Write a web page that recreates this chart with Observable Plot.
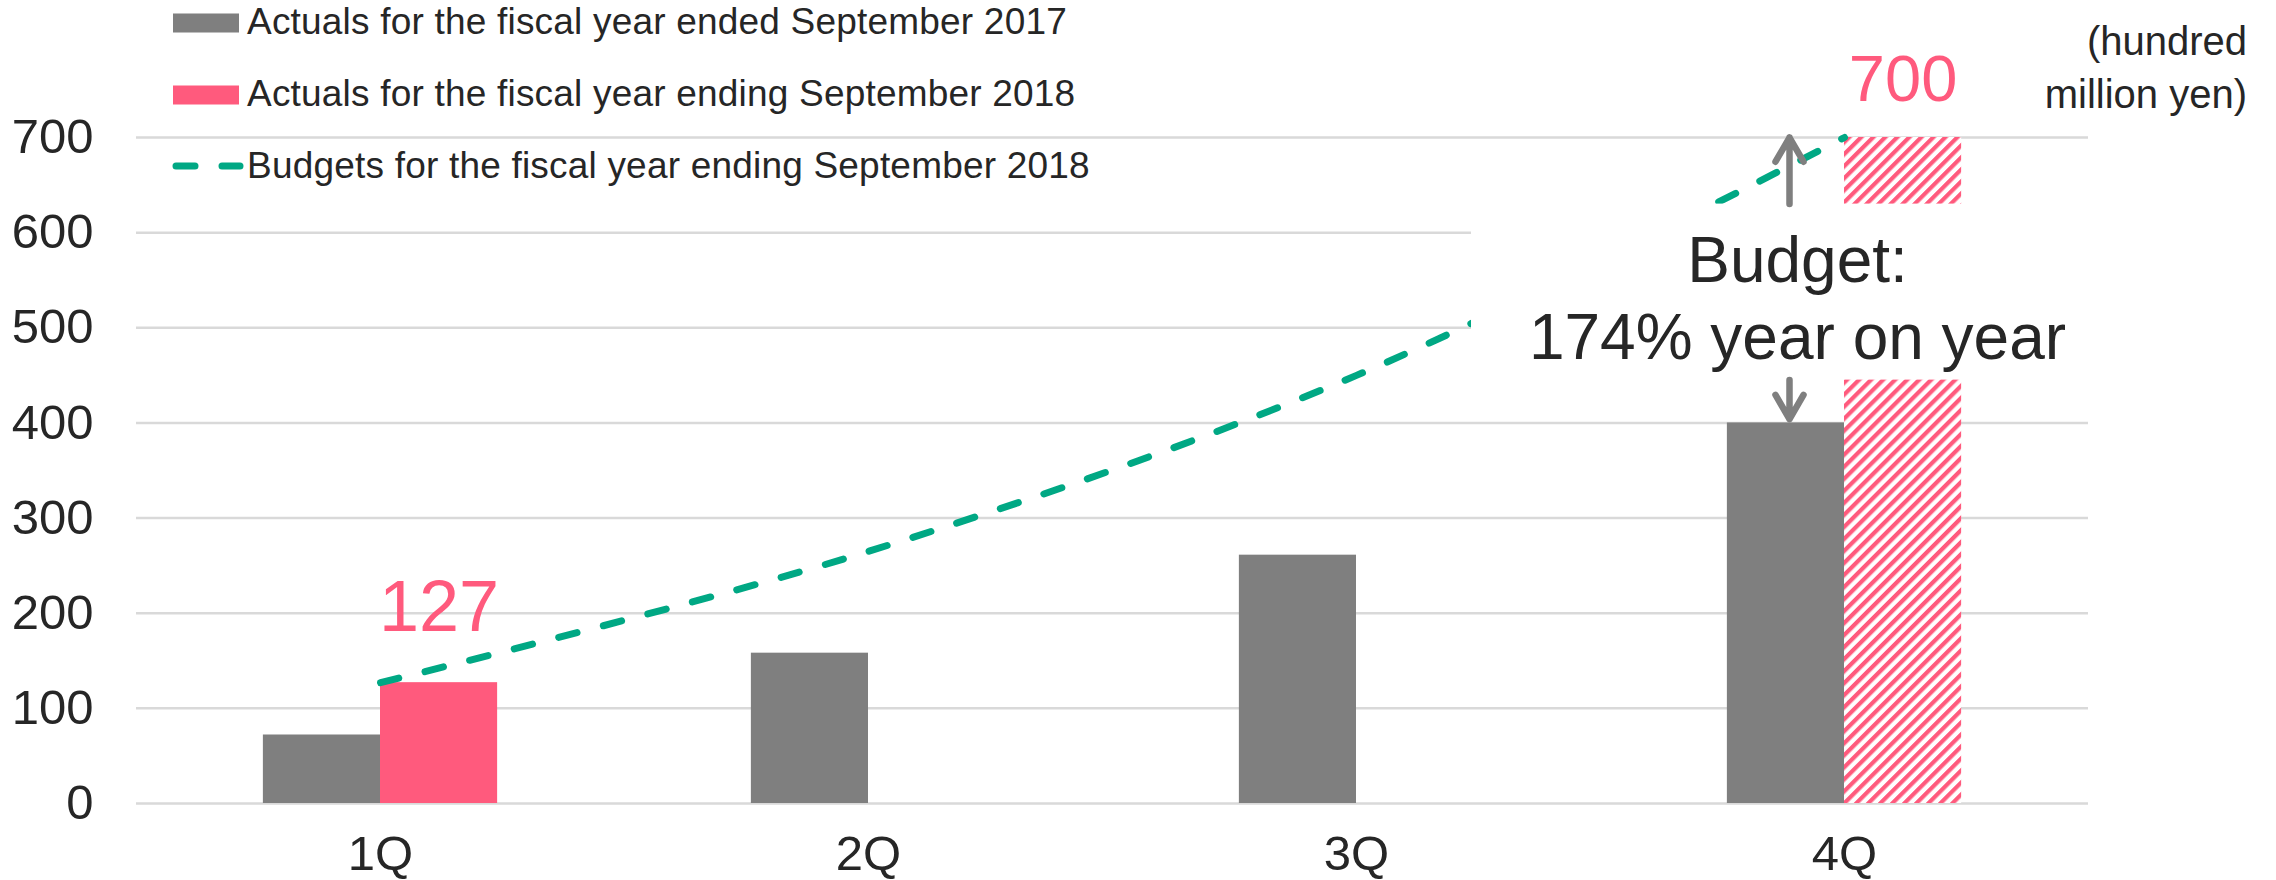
<!DOCTYPE html>
<html>
<head>
<meta charset="utf-8">
<script src="https://cdn.jsdelivr.net/npm/d3@7"></script>
<script src="https://cdn.jsdelivr.net/npm/@observablehq/plot@0.6"></script>
<style>
  html, body { margin: 0; padding: 0; background: #ffffff; }
  #wrap { position: relative; width: 2276px; height: 880px; font-family: "Liberation Sans", Arial, sans-serif; color: #262626; }
  #wrap > svg.overlay { position: absolute; left: 0; top: 0; pointer-events: none; }
</style>
</head>
<body>
<svg width="0" height="0" style="position:absolute">
  <defs>
    <pattern id="hatch" width="8.5" height="8.5" patternUnits="userSpaceOnUse" patternTransform="rotate(45)">
      <rect width="8.5" height="8.5" fill="#ffffff"></rect>
      <rect width="4.2" height="8.5" fill="#FF5A7D"></rect>
    </pattern>
  </defs>
</svg>
<div id="wrap"></div>
<script>
// ---- data ----
const quarters = ["1Q", "2Q", "3Q", "4Q"];
const actuals2017 = [72, 158, 261, 400];
const actuals2018 = [127, null, null, null];
const budget2018 = [127, 265, 450, 700];
const budgetFullYearQuarter = "4Q";
const budgetFullYear = 700;
const yTicks = [0, 100, 200, 300, 400, 500, 600, 700];
const seriesNames = [
  "Actuals for the fiscal year ended September 2017",
  "Actuals for the fiscal year ending September 2018",
  "Budgets for the fiscal year ending September 2018"
];
const valueLabels = [
  {quarter: "1Q", value: 127, text: "127"},
  {quarter: "4Q", value: 700, text: "700"}
];
const annotationText = "Budget:\n174% year on year";
const annotationBox = [{quarter: "4Q", lo: 445, hi: 630, mid: 537.5}];
const arrowSpans = [
  {quarter: "4Q", from: 630, to: 700},
  {quarter: "4Q", from: 445, to: 404}
];
const unitLabel = ["(hundred", "million yen)"];

// ---- style ----
const GRAY = "#7F7F7F", PINK = "#FF5A7D", GREEN = "#00A884", GRID = "#D9D9D9", INK = "#262626";
const W = 2276, H = 880, mL = 136, mR = 188, mT = 137, mB = 77;
const step = (W - mL - mR) / quarters.length;
const pxPerUnit = (H - mT - mB) / 700;

const rows = quarters.map((q, i) => ({quarter: q, a17: actuals2017[i], a18: actuals2018[i], budget: budget2018[i]}));
const hatchRows = [{quarter: budgetFullYearQuarter, value: budgetFullYear}];

// arrow shape: shaft plus a 60-degree chevron head of length r
const arrowShape = {
  draw(context, l, r) {
    context.moveTo(0, 0);
    context.lineTo(0, -l);
    const hw = r * Math.sin(Math.PI / 6), hh = r * Math.cos(Math.PI / 6);
    context.moveTo(-hw, -l + hh);
    context.lineTo(0, -l);
    context.lineTo(hw, -l + hh);
  }
};

const chart = Plot.plot({
  width: W, height: H,
  marginLeft: mL, marginRight: mR, marginTop: mT, marginBottom: mB,
  style: {fontFamily: '"Liberation Sans", Arial, sans-serif', fontSize: "48px", color: INK, background: "transparent", overflow: "visible"},
  x: {domain: quarters, padding: 0, label: null},
  y: {domain: [0, 700], label: null},
  length: {type: "identity"},
  marks: [
    Plot.gridY(yTicks, {stroke: GRID, strokeOpacity: 1, strokeWidth: 2.5}),
    Plot.axisY(yTicks, {tickSize: 0, tickPadding: 43, fontSize: 49, label: null, fill: INK}),
    Plot.axisX({tickSize: 0, tickPadding: 32, fontSize: 49, label: null, fill: INK}),
    Plot.barY(rows, {x: "quarter", y: "a17", fill: GRAY, insetLeft: step * 0.26, insetRight: step * 0.5}),
    Plot.barY(rows.filter(d => d.a18 != null), {x: "quarter", y: "a18", fill: PINK, insetLeft: step * 0.5, insetRight: step * 0.26}),
    Plot.barY(hatchRows, {x: "quarter", y: "value", fill: "url(#hatch)", insetLeft: step * 0.5, insetRight: step * 0.26}),
    Plot.line(rows, {x: "quarter", y: "budget", stroke: GREEN, strokeWidth: 7, strokeDasharray: "19 27", strokeLinecap: "round", curve: "catmull-rom"}),
    Plot.barY(annotationBox, {x: "quarter", y1: "lo", y2: "hi", fill: "#ffffff", insetLeft: -129, insetRight: -2}),
    Plot.vector(arrowSpans, {
      x: "quarter", y: "to", anchor: "end",
      length: d => Math.abs(d.to - d.from) * pxPerUnit,
      rotate: d => d.to > d.from ? 0 : 180,
      shape: arrowShape, r: 28, dx: -55,
      stroke: GRAY, strokeWidth: 6.5, strokeLinecap: "round", strokeLinejoin: "round"
    }),
    Plot.text(annotationBox, {x: "quarter", y: "mid", text: () => annotationText, dx: -47, dy: 4, fontSize: 64, lineHeight: 1.2, fill: INK, textAnchor: "middle"}),
    Plot.text(valueLabels.slice(0, 1), {x: "quarter", y: "value", text: "text", dx: step * 0.12, dy: -75, fontSize: 72, fill: PINK}),
    Plot.text(valueLabels.slice(1), {x: "quarter", y: "value", text: "text", dx: step * 0.12, dy: -57, fontSize: 65, fill: PINK})
  ]
});
document.getElementById("wrap").appendChild(chart);

// ---- legend and unit label overlay ----
const ov = d3.select("#wrap").append("svg").attr("class", "overlay")
  .attr("width", W).attr("height", H)
  .style("font-family", '"Liberation Sans", Arial, sans-serif');

const legendY = [23, 95, 166];
const legendBaseline = [34, 106, 178];
ov.append("rect").attr("x", 173).attr("y", legendY[0] - 9.5).attr("width", 66).attr("height", 19).attr("fill", GRAY);
ov.append("rect").attr("x", 173).attr("y", legendY[1] - 9.5).attr("width", 66).attr("height", 19).attr("fill", PINK);
ov.append("line").attr("x1", 176).attr("x2", 240).attr("y1", legendY[2]).attr("y2", legendY[2])
  .attr("stroke", GREEN).attr("stroke-width", 7).attr("stroke-dasharray", "19 27").attr("stroke-linecap", "round");
seriesNames.forEach((name, i) => {
  ov.append("text").attr("x", 247).attr("y", legendBaseline[i])
    .attr("font-size", 37).attr("letter-spacing", 0.2).attr("fill", INK).text(name);
});
unitLabel.forEach((t, i) => {
  ov.append("text").attr("x", 2247).attr("y", 55 + i * 53).attr("text-anchor", "end")
    .attr("font-size", 40).attr("fill", INK).text(t);
});
</script>
</body>
</html>
